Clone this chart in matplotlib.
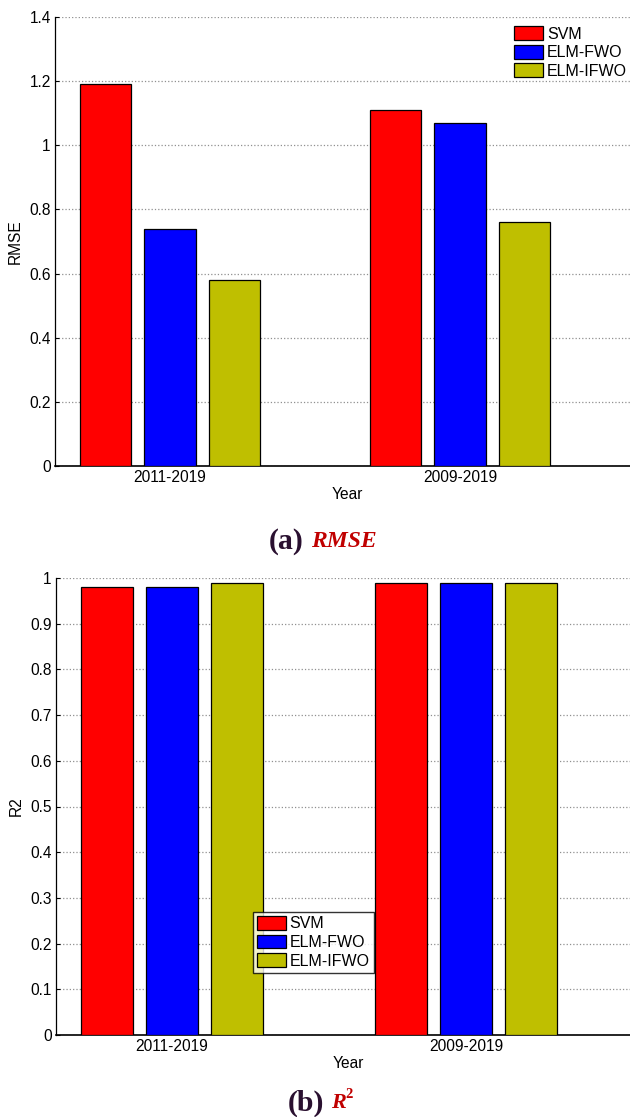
import matplotlib
matplotlib.use("Agg")
import matplotlib.pyplot as plt
from matplotlib.patches import Patch
import numpy as np

plt.rcParams['font.family'] = ['Liberation Sans', 'DejaVu Sans']

years = ["2011-2019", "2009-2019"]
models = ["SVM", "ELM-FWO", "ELM-IFWO"]
colors = ["#FF0000", "#0000FF", "#BFBF00"]

rmse = {
    "SVM": [1.19, 1.11],
    "ELM-FWO": [0.74, 1.07],
    "ELM-IFWO": [0.58, 0.76],
}
r2 = {
    "SVM": [0.98, 0.99],
    "ELM-FWO": [0.98, 0.99],
    "ELM-IFWO": [0.99, 0.99],
}

W, H = 630, 1117
FS = 11.2
fig = plt.figure(figsize=(W / 100, H / 100), dpi=100)


def make_axes(left, top, right, bottom):
    return fig.add_axes([left / W, 1 - bottom / H, (right - left) / W, (bottom - top) / H])


def draw_panel(ax, data, ylabel, yticks, ylim, ticklabels, x_left, x_right):
    x = np.arange(len(years))
    offset = 0.222
    width = 0.178
    for i, m in enumerate(models):
        ax.bar(x + (i - 1) * offset, data[m], width=width, color=colors[i],
               edgecolor="black", linewidth=0.9, zorder=3, label=m)
    ax.set_xlim(x_left, x_right)
    ax.set_ylim(*ylim)
    ax.set_yticks(yticks)
    ax.set_yticklabels(ticklabels, fontsize=FS)
    ax.set_xticks(x)
    ax.set_xticklabels(years, fontsize=FS)
    ax.tick_params(axis="x", length=0, pad=3)
    ax.tick_params(axis="y", length=3, direction="in", pad=3)
    ax.yaxis.grid(True, linestyle=":", color="#909090", linewidth=0.9, zorder=0)
    ax.set_axisbelow(True)
    for s in ("top", "right"):
        ax.spines[s].set_visible(False)
    ax.spines["left"].set_linewidth(0.9)
    ax.spines["bottom"].set_linewidth(1.2)
    ax.set_ylabel(ylabel, fontsize=FS, labelpad=5)
    ax.set_xlabel("Year", fontsize=FS, labelpad=1)


legend_kw = dict(fontsize=11.5, handlelength=1.8, handleheight=0.95, handletextpad=0.25,
                 labelspacing=0.2, borderaxespad=0)

# Panel (a): RMSE
ax1 = make_axes(55, 17, 640, 466)
draw_panel(ax1, rmse, "RMSE", np.arange(0, 1.41, 0.2), (0, 1.4),
           ["0", "0.2", "0.4", "0.6", "0.8", "1", "1.2", "1.4"],
           (55 - 170) / 290, (640 - 170) / 290)
handles = [Patch(facecolor=c, edgecolor="black", linewidth=0.9) for c in colors]
ax1.legend(handles, models, loc="upper left", bbox_to_anchor=(511 / W, 1 - 23 / H),
           bbox_transform=fig.transFigure, frameon=False, borderpad=0.2, **legend_kw)

# Panel (b): R2
ax2 = make_axes(56, 578, 640, 1035)
draw_panel(ax2, r2, "R2", np.round(np.arange(0, 1.01, 0.1), 1), (0, 1.0),
           ["0", "0.1", "0.2", "0.3", "0.4", "0.5", "0.6", "0.7", "0.8", "0.9", "1"],
           (56 - 172) / 294, (640 - 172) / 294)
leg = ax2.legend(handles, models, loc="upper left", bbox_to_anchor=(253 / W, 1 - 912 / H),
                 bbox_transform=fig.transFigure, frameon=True, fancybox=False,
                 borderpad=0.25, **legend_kw)
leg.get_frame().set_edgecolor("black")
leg.get_frame().set_linewidth(1.0)

# Captions
cap_dark = "#2a1030"
cap_red = "#C00000"
serif = "Liberation Serif"
fig.text(304 / W, 1 - 541 / H, "(a)", ha="right", va="center", fontsize=21.5,
         fontweight="bold", family=serif, color=cap_dark)
fig.text(311 / W, 1 - 541 / H, "RMSE", ha="left", va="center", fontsize=17,
         fontweight="bold", fontstyle="italic", family=serif, color=cap_red)
fig.text(324 / W, 1 - 1103 / H, "(b)", ha="right", va="center", fontsize=21.5,
         fontweight="bold", family=serif, color=cap_dark)
fig.text(331 / W, 1 - 1103 / H, "R", ha="left", va="center", fontsize=16,
         fontweight="bold", fontstyle="italic", family=serif, color=cap_red)
fig.text(345.5 / W, 1 - 1095 / H, "2", ha="left", va="center", fontsize=10.5,
         fontweight="bold", family=serif, color=cap_red)

fig.savefig("out.png", dpi=100)
